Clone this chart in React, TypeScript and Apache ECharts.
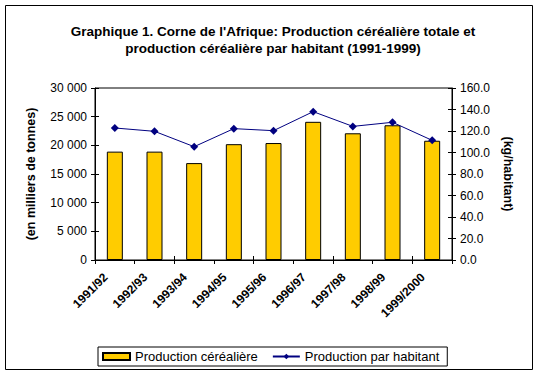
import React, { useEffect, useRef } from "react";
import * as echarts from "echarts";

const categories = ["1991/92", "1992/93", "1993/94", "1994/95", "1995/96", "1996/97", "1997/98", "1998/99", "1999/2000"];
const productionTotale = [18900, 18900, 16900, 20200, 20400, 24100, 22100, 23500, 20800];
const productionParHabitant = [122.8, 119.7, 105.4, 122.2, 120.3, 138.0, 124.3, 128.1, 111.3];
const leftTicks = { min: 0, max: 30000, interval: 5000 };
const rightTicks = { min: 0, max: 160, interval: 20 };

const FONT = "Arial, 'Liberation Sans', sans-serif";

export default function App() {
  const ref = useRef<HTMLDivElement>(null);
  useEffect(() => {
    if (!ref.current) return;
    const chart = echarts.init(ref.current, null, { renderer: "svg" });
    const tickInside = { show: true, inside: true, length: 4, lineStyle: { color: "#000" } };
    const tickOutside = { show: true, inside: false, length: 4, lineStyle: { color: "#000" } };
    chart.setOption({
      animation: false,
      backgroundColor: "#fff",
      textStyle: { fontFamily: FONT },
      title: {
        text: "Graphique 1. Corne de l'Afrique: Production céréalière totale et\nproduction céréalière par habitant (1991-1999)",
        left: 268,
        top: 18,
        textAlign: "center",
        textStyle: { fontFamily: FONT, fontSize: 13.5, fontWeight: "bold", color: "#000", lineHeight: 17, align: "center" },
      },
      graphic: [
        {
          type: "rect",
          shape: { x: 5.5, y: 5.5, width: 527, height: 364 },
          style: { fill: "none", stroke: "#000", lineWidth: 1 },
          silent: true,
          z: 100,
        },
      ],
      legend: {
        left: 98,
        top: 347,
        orient: "horizontal",
        padding: [3, 8, 3, 4],
        itemGap: 14,
        itemWidth: 27,
        itemHeight: 7,
        borderColor: "#000",
        borderWidth: 1,
        textStyle: { fontFamily: FONT, fontSize: 13, color: "#000" },
        data: [
          { name: "Production céréalière", icon: "rect" },
          { name: "Production par habitant" },
        ],
      },
      grid: {
        left: 95,
        right: 85,
        top: 88,
        bottom: 116,
        show: true,
        borderColor: "#000",
        borderWidth: 1,
        backgroundColor: "#fff",
      },
      xAxis: [
        {
          type: "category",
          data: categories,
          axisLine: { show: true, lineStyle: { color: "#000" } },
          axisTick: tickOutside,
          axisLabel: {
            rotate: 45,
            interval: 0,
            fontFamily: FONT,
            fontSize: 12,
            fontWeight: "bold",
            color: "#000",
            margin: 6,
            padding: [0, 13, 0, 0],
          },
        },
        {
          type: "category",
          data: categories,
          position: "bottom",
          axisLine: { show: false },
          axisTick: tickInside,
          axisLabel: { show: false },
        },
      ],
      yAxis: [
        {
          type: "value",
          min: leftTicks.min,
          max: leftTicks.max,
          interval: leftTicks.interval,
          position: "left",
          name: "(en milliers de tonnes)",
          nameLocation: "middle",
          nameGap: 58,
          nameTextStyle: { fontFamily: FONT, fontSize: 12.5, fontWeight: "bold", color: "#000" },
          axisLine: { show: true, lineStyle: { color: "#000" } },
          axisTick: tickOutside,
          splitLine: { show: false },
          axisLabel: {
            fontFamily: FONT,
            fontSize: 12,
            color: "#000",
            margin: 8,
            formatter: (v: number) => String(v).replace(/\B(?=(\d{3})+(?!\d))/g, " "),
          },
        },
        {
          type: "value",
          min: rightTicks.min,
          max: rightTicks.max,
          interval: rightTicks.interval,
          position: "right",
          name: "(kg/habitant)",
          nameLocation: "middle",
          nameGap: 49,
          nameRotate: -90,
          nameTextStyle: { fontFamily: FONT, fontSize: 12.5, fontWeight: "bold", color: "#000" },
          axisLine: { show: true, lineStyle: { color: "#000" } },
          axisTick: tickOutside,
          splitLine: { show: false },
          axisLabel: {
            fontFamily: FONT,
            fontSize: 12,
            color: "#000",
            margin: 8,
            formatter: (v: number) => v.toFixed(1),
          },
        },
        {
          type: "value",
          min: leftTicks.min,
          max: leftTicks.max,
          interval: leftTicks.interval,
          position: "left",
          axisLine: { show: false },
          axisTick: tickInside,
          splitLine: { show: false },
          axisLabel: { show: false },
        },
        {
          type: "value",
          min: rightTicks.min,
          max: rightTicks.max,
          interval: rightTicks.interval,
          position: "right",
          axisLine: { show: false },
          axisTick: tickInside,
          splitLine: { show: false },
          axisLabel: { show: false },
        },
      ],
      series: [
        {
          name: "Production céréalière",
          type: "bar",
          xAxisIndex: 0,
          yAxisIndex: 0,
          data: productionTotale,
          barWidth: 16,
          itemStyle: { color: "#FFCC00", borderColor: "#000", borderWidth: 1 },
        },
        {
          name: "Production par habitant",
          type: "line",
          xAxisIndex: 0,
          yAxisIndex: 1,
          data: productionParHabitant,
          symbol: "diamond",
          symbolSize: 8,
          lineStyle: { color: "#000080", width: 1 },
          itemStyle: { color: "#000080" },
          z: 5,
        },
      ],
    });
    return () => chart.dispose();
  }, []);
  return <div ref={ref} style={{ width: 537, height: 376, position: "absolute", left: 0, top: 0 }} />;
}
